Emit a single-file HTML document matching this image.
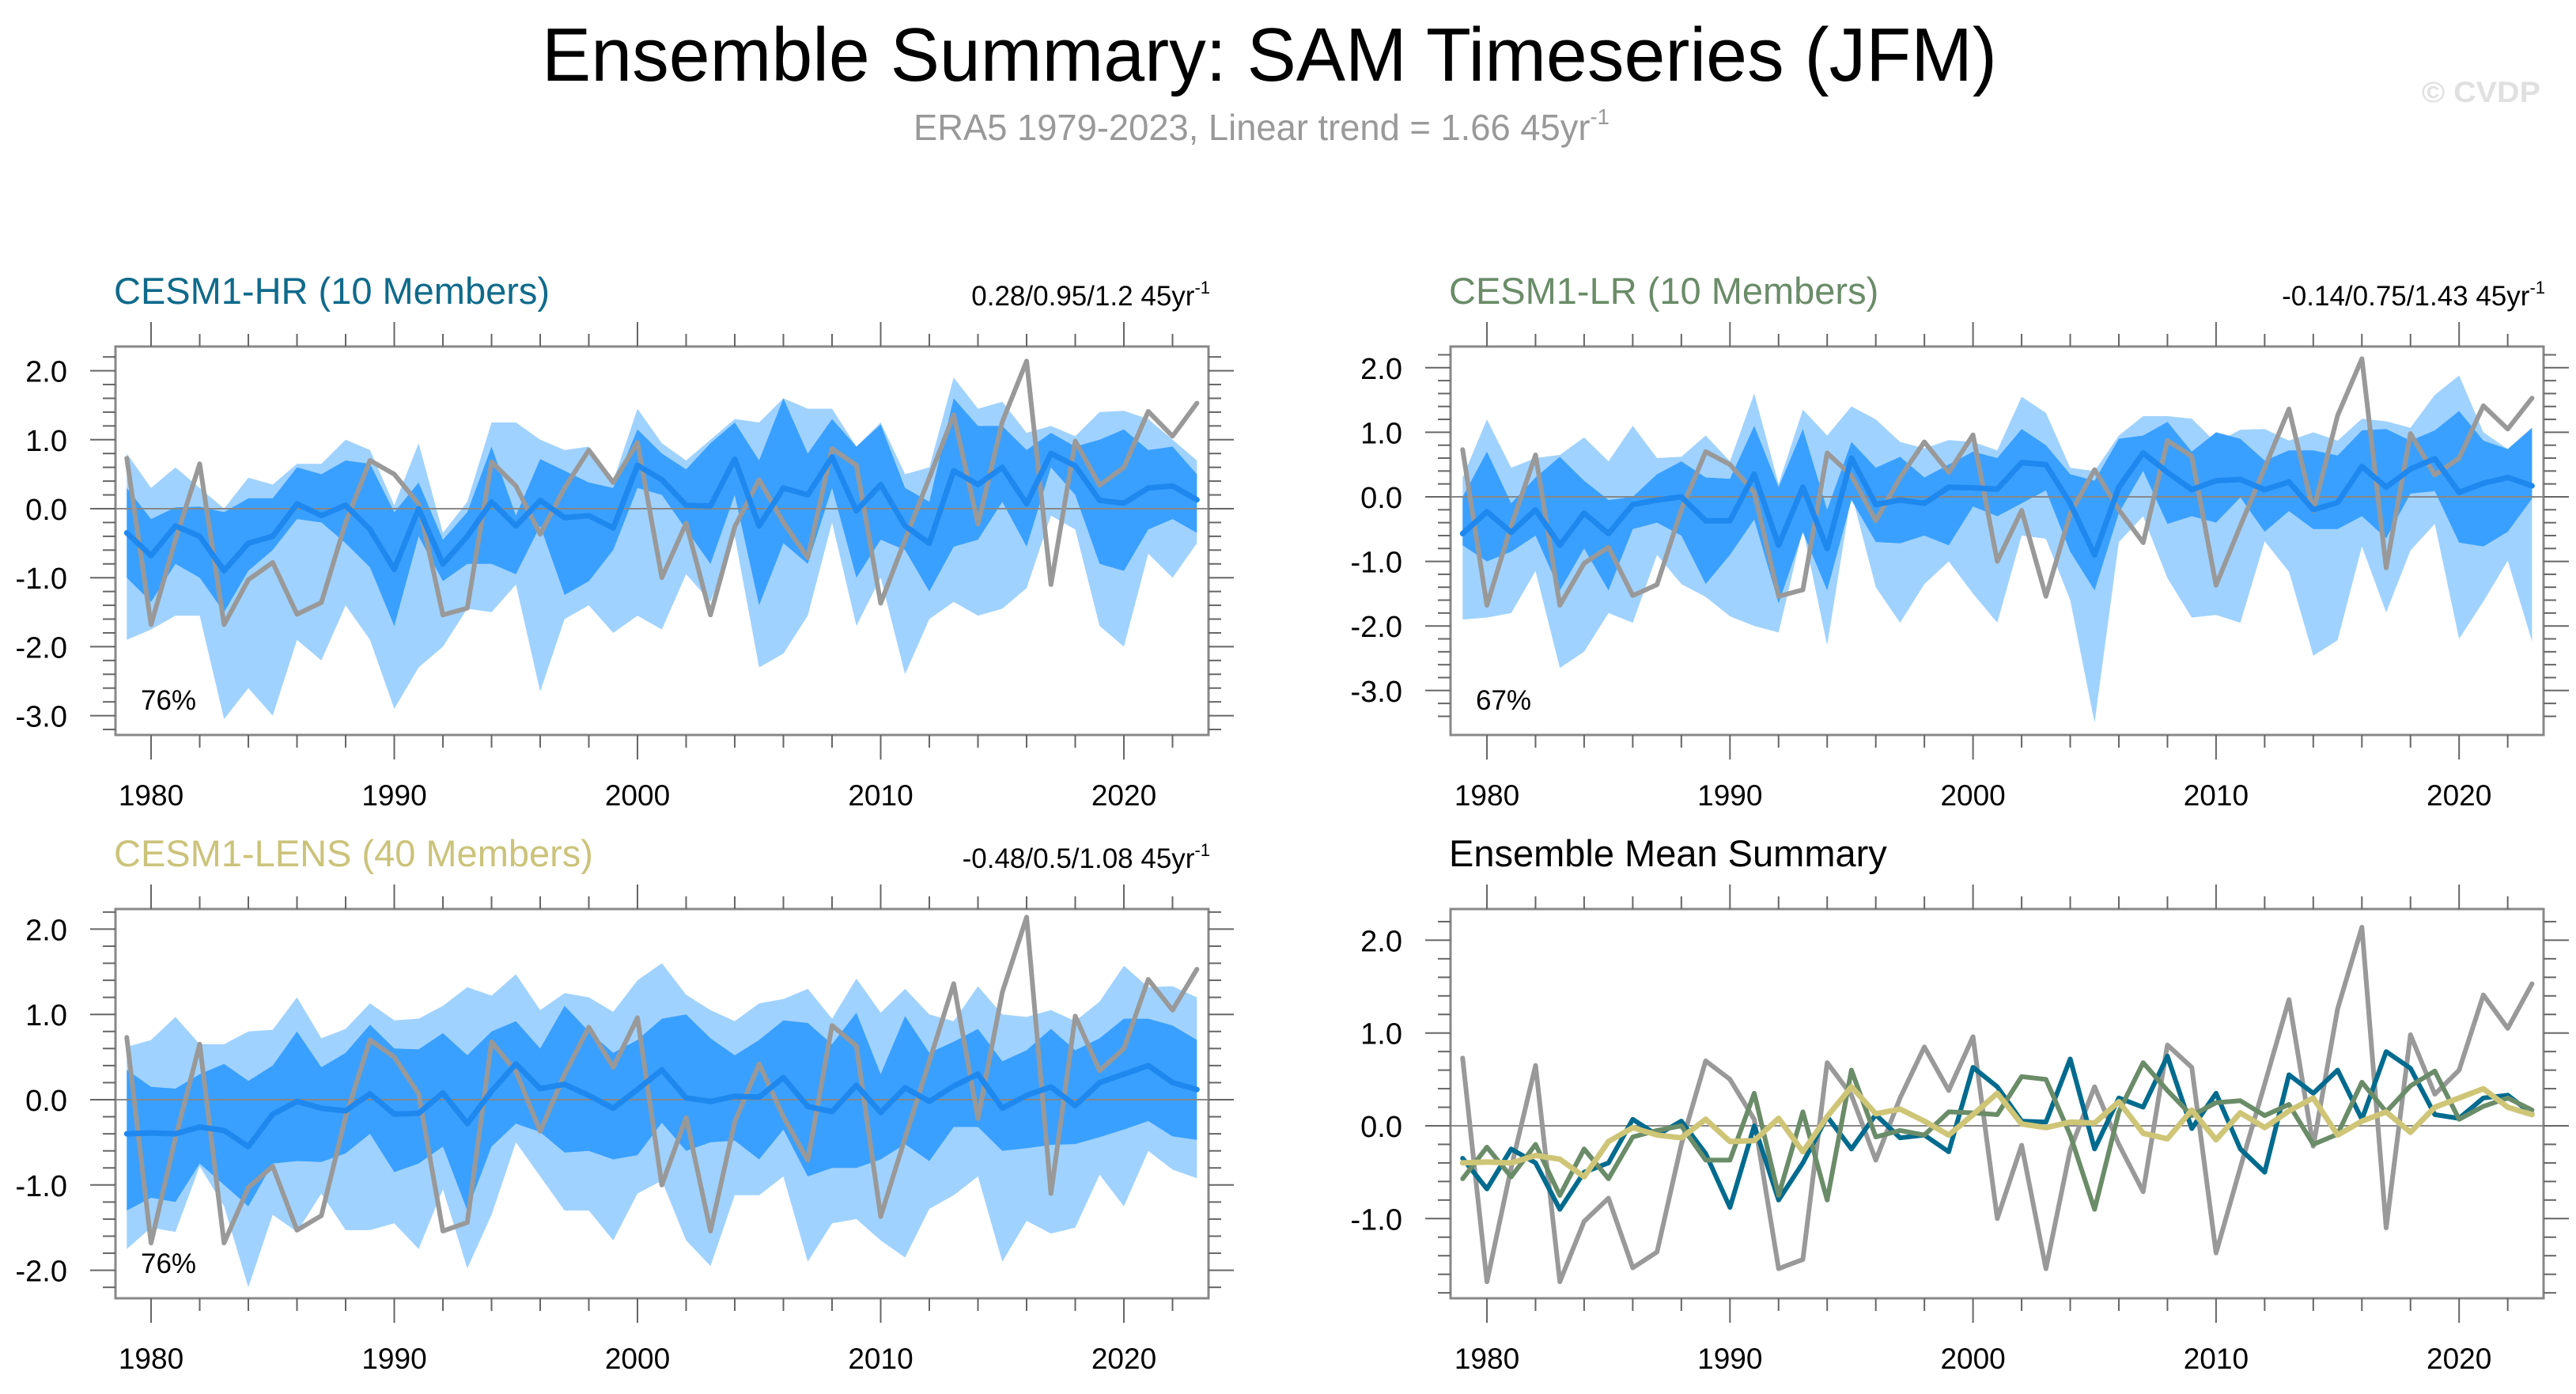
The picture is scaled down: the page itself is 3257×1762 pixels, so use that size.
<!DOCTYPE html>
<html><head><meta charset="utf-8"><style>
html,body{margin:0;padding:0;background:#fff;}
svg{display:block;font-family:"Liberation Sans",Arial,sans-serif;}
</style></head><body>
<svg id="fig" width="3257" height="1762" viewBox="0 0 3257 1762" xmlns="http://www.w3.org/2000/svg">
<text x="1605" y="102" font-size="96" text-anchor="middle" textLength="1840" lengthAdjust="spacingAndGlyphs" fill="#000">Ensemble Summary: SAM Timeseries (JFM)</text>
<text x="1155" y="177" font-size="46" fill="#999" textLength="880" lengthAdjust="spacingAndGlyphs">ERA5 1979-2023, Linear trend = 1.66 45yr<tspan font-size="28" dy="-20">-1</tspan></text>
<text x="3212" y="129" font-size="37" font-weight="bold" fill="#e0e0e0" text-anchor="end" textLength="150" lengthAdjust="spacingAndGlyphs">© CVDP</text>
</svg>
<script>
const years = [];
for (let y = 1979; y <= 2023; y++) years.push(y);
const era5 = [0.73,-1.68,-0.45,0.65,-1.68,-1.03,-0.78,-1.53,-1.36,-0.2,0.7,0.5,0.07,-1.54,-1.44,0.68,0.33,-0.37,0.3,0.85,0.38,0.96,-1.0,-0.21,-1.54,-0.26,0.42,-0.2,-0.71,0.87,0.63,-1.37,-0.45,0.45,1.36,-0.22,1.26,2.14,-1.1,0.98,0.34,0.6,1.41,1.05,1.53];

const hrMean = [-0.35,-0.68,-0.25,-0.4,-0.9,-0.5,-0.4,0.07,-0.1,0.05,-0.3,-0.88,0.0,-0.8,-0.4,0.1,-0.25,0.12,-0.13,-0.1,-0.28,0.63,0.42,0.05,0.04,0.72,-0.25,0.3,0.2,0.75,-0.03,0.35,-0.25,-0.5,0.55,0.35,0.6,0.07,0.8,0.62,0.12,0.08,0.3,0.33,0.13];
const hrDarkHi = [0.3,-0.15,0.02,0.03,-0.05,0.15,0.15,0.6,0.5,0.7,0.65,-0.05,0.38,-0.45,-0.05,0.9,-0.1,0.72,0.55,0.38,0.3,1.15,0.8,0.57,0.95,1.25,0.7,1.6,0.8,1.3,0.9,1.22,0.3,0.1,1.6,1.2,1.2,0.85,1.1,0.9,1.0,1.15,0.85,0.9,0.5];
const hrDarkLo = [-1.0,-1.35,-0.8,-1.0,-1.5,-0.9,-0.6,-0.15,-0.2,-0.5,-0.85,-1.7,-0.4,-1.05,-0.8,-0.8,-0.95,-0.25,-1.25,-1.05,-0.6,0.3,0.2,-0.3,-0.8,0.2,-1.4,-0.5,-0.8,0.3,-1.0,-0.45,-0.6,-1.2,-0.55,-0.45,0.1,-0.55,0.6,0.2,-0.8,-0.9,-0.3,-0.15,-0.35];
const hrLightHi = [0.8,0.3,0.6,0.3,0.0,0.45,0.35,0.65,0.65,1.0,0.85,0.05,0.95,-0.35,0.1,1.25,1.25,1.0,0.85,0.9,0.4,1.45,0.95,0.7,1.0,1.3,1.25,1.6,1.45,1.45,0.9,1.25,0.5,0.6,1.9,1.45,1.55,1.1,1.2,1.05,1.4,1.42,1.3,1.0,0.7];
const hrLightLo = [-1.9,-1.75,-1.55,-1.55,-3.05,-2.6,-3.0,-1.9,-2.2,-1.4,-1.9,-2.9,-2.3,-2.0,-1.45,-1.5,-1.1,-2.65,-1.6,-1.4,-1.8,-1.55,-1.75,-0.95,-1.35,-0.4,-2.3,-2.1,-1.55,-0.2,-1.7,-1.0,-2.4,-1.6,-1.35,-1.55,-1.45,-1.15,-0.1,-0.3,-1.7,-2.0,-0.65,-1.0,-0.5];

const lrMean = [-0.57,-0.23,-0.55,-0.2,-0.75,-0.25,-0.57,-0.12,-0.05,0.0,-0.37,-0.37,0.35,-0.75,0.15,-0.8,0.6,-0.12,-0.05,-0.1,0.15,0.14,0.12,0.53,0.5,-0.1,-0.9,0.15,0.68,0.38,0.11,0.25,0.27,0.11,0.23,-0.2,-0.09,0.47,0.15,0.43,0.59,0.07,0.21,0.3,0.17];
const lrDarkHi = [0.0,0.7,-0.1,0.3,0.62,0.25,-0.05,0.0,0.35,0.55,0.3,0.28,1.1,0.15,1.05,-0.2,0.85,0.45,0.62,0.3,0.5,0.7,0.6,1.05,0.8,0.35,0.25,0.9,0.95,1.16,0.7,1.0,0.9,0.56,0.72,0.72,0.64,1.03,1.05,0.87,1.03,1.33,0.87,0.74,1.07];
const lrDarkLo = [-0.75,-1.0,-0.85,-0.6,-1.45,-0.8,-1.45,-0.5,-0.4,-0.6,-1.35,-0.9,-0.35,-1.65,-0.55,-1.45,-0.05,-0.7,-0.72,-0.6,-0.75,-0.15,-0.3,-0.1,0.1,-0.85,-1.45,-0.25,0.4,-0.42,-0.3,-0.4,-0.01,-0.54,-0.22,-0.5,-0.5,-0.3,-0.64,0.05,0.09,-0.71,-0.77,-0.54,-0.03];
const lrLightHi = [0.3,1.2,0.45,0.6,0.65,0.92,0.55,1.1,0.6,0.62,0.95,0.55,1.6,0.2,1.35,0.95,1.4,1.2,0.85,0.75,0.88,0.85,0.72,1.55,1.3,0.45,0.4,0.95,1.25,1.25,1.21,0.84,1.04,1.05,0.87,1.0,0.87,1.21,1.17,1.07,1.58,1.88,1.0,0.74,1.07];
const lrLightLo = [-1.9,-1.87,-1.8,-1.15,-2.65,-2.4,-1.8,-1.95,-0.9,-1.35,-1.55,-1.85,-2.0,-2.1,-0.5,-2.3,0.05,-1.4,-1.95,-1.35,-1.0,-1.5,-1.95,-0.6,-0.65,-1.6,-3.5,-0.7,-0.3,-1.26,-1.87,-1.83,-1.95,-0.69,-1.16,-2.46,-2.22,-0.77,-1.79,-0.83,-0.42,-2.2,-1.62,-0.99,-2.24];

const lensMean = [-0.4,-0.39,-0.4,-0.32,-0.36,-0.55,-0.17,-0.02,-0.1,-0.13,0.07,-0.17,-0.16,0.08,-0.28,0.1,0.42,0.13,0.18,0.05,-0.1,0.12,0.35,0.02,-0.02,0.04,0.03,0.26,-0.08,-0.14,0.17,-0.15,0.14,-0.02,0.16,0.3,-0.1,0.05,0.15,-0.07,0.2,0.3,0.4,0.2,0.12];
const lensDarkHi = [0.35,0.15,0.13,0.3,0.42,0.22,0.4,0.8,0.38,0.55,0.88,0.6,0.59,0.78,0.52,0.8,0.92,0.6,1.1,0.8,0.55,0.7,0.95,1.0,0.72,0.52,0.7,0.93,0.9,0.65,1.02,0.3,0.98,0.55,0.68,0.83,0.45,0.58,0.83,0.58,0.72,0.95,0.95,0.87,0.7];
const lensDarkLo = [-1.3,-1.15,-1.2,-0.75,-1.0,-1.25,-0.75,-0.72,-0.73,-0.63,-0.4,-0.85,-0.75,-0.55,-1.3,-0.55,-0.28,-0.38,-0.62,-0.6,-0.7,-0.65,-0.27,-0.6,-0.5,-0.48,-0.7,-0.35,-0.9,-0.8,-0.8,-0.7,-0.52,-0.72,-0.32,-0.32,-0.6,-0.57,-0.53,-0.52,-0.44,-0.35,-0.25,-0.43,-0.47];
const lensLightHi = [0.62,0.7,0.97,0.65,0.65,0.8,0.82,1.2,0.72,0.83,1.13,0.93,0.95,1.1,1.32,1.22,1.47,1.05,1.25,1.2,1.03,1.4,1.6,1.23,1.05,0.92,1.13,1.18,1.3,0.95,1.42,1.02,1.3,1.0,0.92,1.33,1.0,0.97,1.05,0.92,1.15,1.57,1.32,1.33,1.2];
const lensLightLo = [-1.75,-1.5,-1.55,-0.78,-1.25,-2.2,-1.35,-1.55,-1.1,-1.53,-1.53,-1.45,-1.75,-1.05,-1.98,-1.35,-0.5,-0.9,-1.3,-1.3,-1.65,-1.1,-0.95,-1.65,-1.95,-1.12,-1.12,-0.9,-1.9,-1.45,-1.4,-1.65,-1.85,-1.28,-1.12,-0.9,-1.9,-1.42,-1.57,-1.5,-0.88,-1.25,-0.6,-0.82,-0.92];

const yTickLabels = ["-3.0","-2.0","-1.0","0.0","1.0","2.0"];
const xTickLabels = ["1980","1990","2000","2010","2020"];

const NS = "http://www.w3.org/2000/svg";
const svg = document.getElementById("fig");
function mk(tag, attrs, parent) {
  const e = document.createElementNS(NS, tag);
  for (const k in attrs) e.setAttribute(k, attrs[k]);
  (parent || svg).appendChild(e);
  return e;
}
function panel(cfg) {
  const g = mk("g", {});
  
  
  const xs = y => cfg.x1980 + (y - 1980) * cfg.pxYear;
  const ys = v => cfg.y0 - v * cfg.pxUnit;
  const clipId = cfg.name + "-clip";
  const cp = mk("clipPath", {id: clipId}, g);
  mk("rect", {x: cfg.L, y: cfg.T, width: cfg.R - cfg.L, height: cfg.B - cfg.T}, cp);
  const inner = mk("g", {"clip-path": "url(#" + clipId + ")"}, g);
  function band(hi, lo, color, nm) {
    let d = "";
    years.forEach((yr, i) => { d += (i ? "L" : "M") + xs(yr).toFixed(1) + "," + ys(hi[i]).toFixed(1); });
    for (let i = years.length - 1; i >= 0; i--) d += "L" + xs(years[i]).toFixed(1) + "," + ys(lo[i]).toFixed(1);
    const p = mk("path", {d: d + "Z", fill: color}, inner);
    
    
  }
  function line(vals, color, w, nm) {
    const pts = years.map((yr, i) => xs(yr).toFixed(1) + "," + ys(vals[i]).toFixed(1)).join(" ");
    const p = mk("polyline", {points: pts, fill: "none", stroke: color, "stroke-width": w, "stroke-linejoin": "round", "stroke-linecap": "round"}, inner);
    
    
  }
  if (cfg.bands) {
    band(cfg.bands[0], cfg.bands[1], "#a0d2ff", "spread-band-outer");
    band(cfg.bands[2], cfg.bands[3], "#3aa0ff", "spread-band-inner");
  }
  const zl = mk("line", {x1: cfg.L, x2: cfg.R, y1: ys(0), y2: ys(0), stroke: "#888", "stroke-width": 2}, inner);
  
  
  cfg.lines.forEach(l => line(l.vals, l.color, l.w, l.name));
  const box = mk("rect", {x: cfg.L, y: cfg.T, width: cfg.R - cfg.L, height: cfg.B - cfg.T, fill: "none", stroke: "#888", "stroke-width": 3}, g);
  
  
  for (let yr = 1980; yr <= 2022; yr += 2) {
    const major = yr % 10 === 0;
    const len = major ? 31 : 16;
    const x = xs(yr);
    mk("line", {x1: x, x2: x, y1: cfg.B, y2: cfg.B + len, stroke: "#666", "stroke-width": 2}, g);
    mk("line", {x1: x, x2: x, y1: cfg.T, y2: cfg.T - len, stroke: "#666", "stroke-width": 2}, g);
  }
  xTickLabels.forEach(lbl => {
    const t = mk("text", {x: xs(+lbl), y: cfg.B + 89, "font-size": 37, "text-anchor": "middle", fill: "#000"}, g);
    t.textContent = lbl;
    
    
  });
  for (let k = Math.round(cfg.minorLo * 5); k <= Math.round(cfg.minorHi * 5); k++) {
    const v = k / 5;
    const major = k % 5 === 0;
    const len = major ? 32 : 16;
    const y = ys(v);
    mk("line", {x1: cfg.L, x2: cfg.L - len, y1: y, y2: y, stroke: "#666", "stroke-width": 2}, g);
    mk("line", {x1: cfg.R, x2: cfg.R + len, y1: y, y2: y, stroke: "#666", "stroke-width": 2}, g);
  }
  yTickLabels.forEach(lbl => {
    const v = parseFloat(lbl);
    if (v < cfg.minorLo || v > cfg.minorHi) return;
    const t = mk("text", {x: cfg.L - 61, y: ys(v) + 14, "font-size": 38, "text-anchor": "end", fill: "#000"}, g);
    t.textContent = lbl;
    
    
  });
  const title = mk("text", {x: cfg.L - 2, y: cfg.T - 54, "font-size": 47, fill: cfg.titleColor}, g);
  title.textContent = cfg.title;
  
  
  if (cfg.stat) {
    const s = mk("text", {x: cfg.R + 2, y: cfg.T - 52, "font-size": 35, "text-anchor": "end", fill: "#000"}, g);
    s.textContent = cfg.stat;
    const sup = mk("tspan", {"font-size": 22, dy: -15}, s);
    sup.textContent = "-1";
    
    
  }
  if (cfg.pct) {
    const p = mk("text", {x: cfg.L + 32, y: cfg.pctY, "font-size": 35, fill: "#000"}, g);
    p.textContent = cfg.pct;
    
    
  }
}
const obs = {vals: era5, color: "#999999", w: 6, name: "era5-line"};
panel({name: "panel-cesm1-hr", L: 146, R: 1528, T: 438, B: 929, x1980: 191, pxYear: 30.75, y0: 643, pxUnit: 87.2, minorLo: -3.2, minorHi: 2.2,
  title: "CESM1-HR (10 Members)", titleColor: "#0f6a8b", stat: "0.28/0.95/1.2 45yr", pct: "76%", pctY: 897,
  bands: [hrLightHi, hrLightLo, hrDarkHi, hrDarkLo],
  lines: [obs, {vals: hrMean, color: "#1e88ef", w: 7, name: "ensemble-mean-line"}]});
panel({name: "panel-cesm1-lr", L: 1834, R: 3216, T: 438, B: 929, x1980: 1880, pxYear: 30.73, y0: 628, pxUnit: 81.6, minorLo: -3.4, minorHi: 2.2,
  title: "CESM1-LR (10 Members)", titleColor: "#6a8c68", stat: "-0.14/0.75/1.43 45yr", pct: "67%", pctY: 897,
  bands: [lrLightHi, lrLightLo, lrDarkHi, lrDarkLo],
  lines: [obs, {vals: lrMean, color: "#1e88ef", w: 7, name: "ensemble-mean-line"}]});
panel({name: "panel-cesm1-lens", L: 146, R: 1528, T: 1149, B: 1641, x1980: 191, pxYear: 30.75, y0: 1390, pxUnit: 107.8, minorLo: -2.2, minorHi: 2.2,
  title: "CESM1-LENS (40 Members)", titleColor: "#cbc37a", stat: "-0.48/0.5/1.08 45yr", pct: "76%", pctY: 1609,
  bands: [lensLightHi, lensLightLo, lensDarkHi, lensDarkLo],
  lines: [obs, {vals: lensMean, color: "#1e88ef", w: 7, name: "ensemble-mean-line"}]});
panel({name: "panel-ensemble-mean-summary", L: 1834, R: 3216, T: 1149, B: 1641, x1980: 1880, pxYear: 30.73, y0: 1423, pxUnit: 117.3, minorLo: -1.8, minorHi: 2.2,
  title: "Ensemble Mean Summary", titleColor: "#000",
  lines: [obs, {vals: hrMean, color: "#006b8e", w: 6, name: "cesm1-hr-mean-line"},
    {vals: lrMean, color: "#6a8c68", w: 6, name: "cesm1-lr-mean-line"},
    {vals: lensMean, color: "#cfc577", w: 7, name: "cesm1-lens-mean-line"}]});
</script>
</body></html>
